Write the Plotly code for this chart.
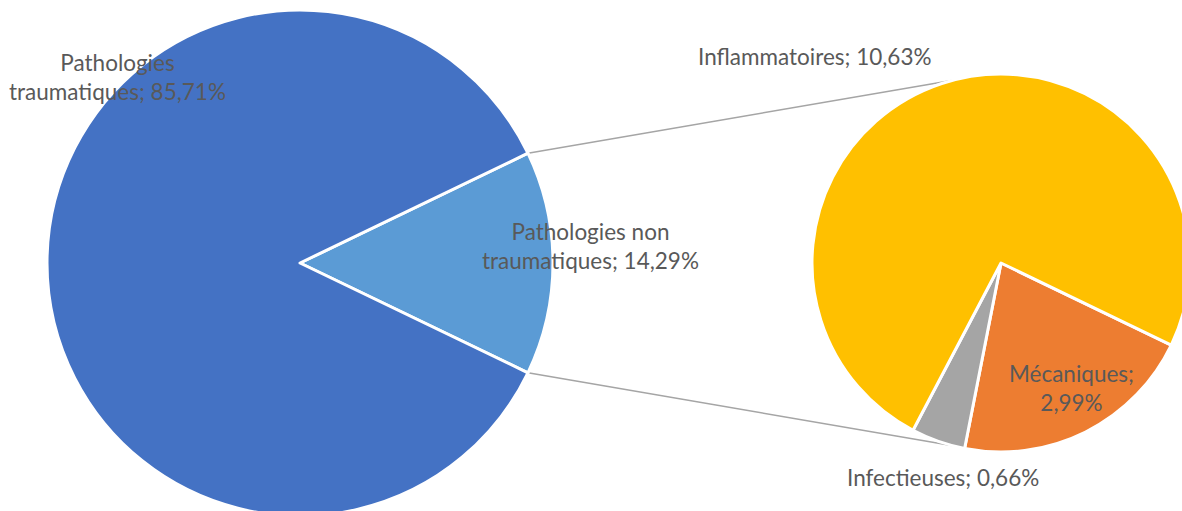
import math
import plotly.graph_objects as go

# ---- data ----
main_labels = ["Pathologies non traumatiques", "Pathologies traumatiques"]
main_values = [14.29, 85.71]
main_colors = ["#5B9BD5", "#4472C4"]

sub_labels = ["Mécaniques", "Infectieuses", "Inflammatoires"]
sub_values = [2.99, 0.66, 10.63]
sub_colors = ["#ED7D31", "#A5A5A5", "#FFC000"]

# figure slightly larger than the 1182x511 view so the pies are cropped like the original
W, H = 1192, 520
TXT = "#595959"
FONT = "Lato"

def fmt(v):
    return f"{v:.2f}".replace(".", ",") + "%"

# geometry (pixels)
m_x0, m_x1, m_top, m_bot = 47, 553, 10, 516
s_x0, s_x1, s_top, s_bot = 812, 1190, 74, 452

def dom(x0, x1, top, bot):
    return dict(x=[x0 / W, x1 / W], y=[(H - bot) / H, (H - top) / H])

half = main_values[0] / sum(main_values) * 360 / 2
sub_start = 90 + half  # clockwise from 12 o'clock

fig = go.Figure()
fig.add_trace(go.Pie(
    labels=main_labels, values=main_values, sort=False, direction="clockwise",
    rotation=90 - half, marker=dict(colors=main_colors, line=dict(color="white", width=3)),
    textinfo="none", hoverinfo="label+percent", showlegend=False,
    domain=dom(m_x0, m_x1, m_top, m_bot),
))
fig.add_trace(go.Pie(
    labels=sub_labels, values=sub_values, sort=False, direction="clockwise",
    rotation=sub_start, marker=dict(colors=sub_colors, line=dict(color="white", width=3)),
    textinfo="none", hoverinfo="label+value", showlegend=False,
    domain=dom(s_x0, s_x1, s_top, s_bot),
))

# connector lines
mR = min(m_x1 - m_x0, m_bot - m_top) / 2
mcx, mcy = (m_x0 + m_x1) / 2, (m_top + m_bot) / 2
sR = min(s_x1 - s_x0, s_bot - s_top) / 2
scx, scy = (s_x0 + s_x1) / 2, (s_top + s_bot) / 2
end_ang = 104.7
for sgn in (1, -1):
    a = math.radians(half) * sgn
    x0p, y0p = mcx + mR * math.cos(a), mcy - mR * math.sin(a)
    b = math.radians(end_ang) * sgn
    x1p, y1p = scx + sR * math.cos(b), scy - sR * math.sin(b)
    fig.add_shape(type="line", xref="paper", yref="paper",
                  x0=x0p / W, y0=1 - y0p / H, x1=x1p / W, y1=1 - y1p / H,
                  line=dict(color="#A5A5A5", width=1.5), layer="below")

ann = [
    (117, 77, "Pathologies<br>traumatiques; " + fmt(main_values[1])),
    (590, 246, "Pathologies non<br>traumatiques; " + fmt(main_values[0])),
    (815, 56, sub_labels[2] + "; " + fmt(sub_values[2])),
    (1071, 388, sub_labels[0] + ";<br>" + fmt(sub_values[0])),
    (943, 477, sub_labels[1] + "; " + fmt(sub_values[1])),
]
for x, y, t in ann:
    fig.add_annotation(x=x / W, y=1 - y / H, xref="paper", yref="paper", text=t,
                       showarrow=False, xanchor="center", yanchor="middle",
                       font=dict(family=FONT, size=22.5, color=TXT), align="center")

fig.update_layout(width=W, height=H, margin=dict(l=0, r=0, t=0, b=0),
                  paper_bgcolor="white", plot_bgcolor="white")
fig.write_html("out.html", config={"displayModeBar": False},
               post_script="document.body.style.margin='0';document.body.style.overflow='hidden';")
